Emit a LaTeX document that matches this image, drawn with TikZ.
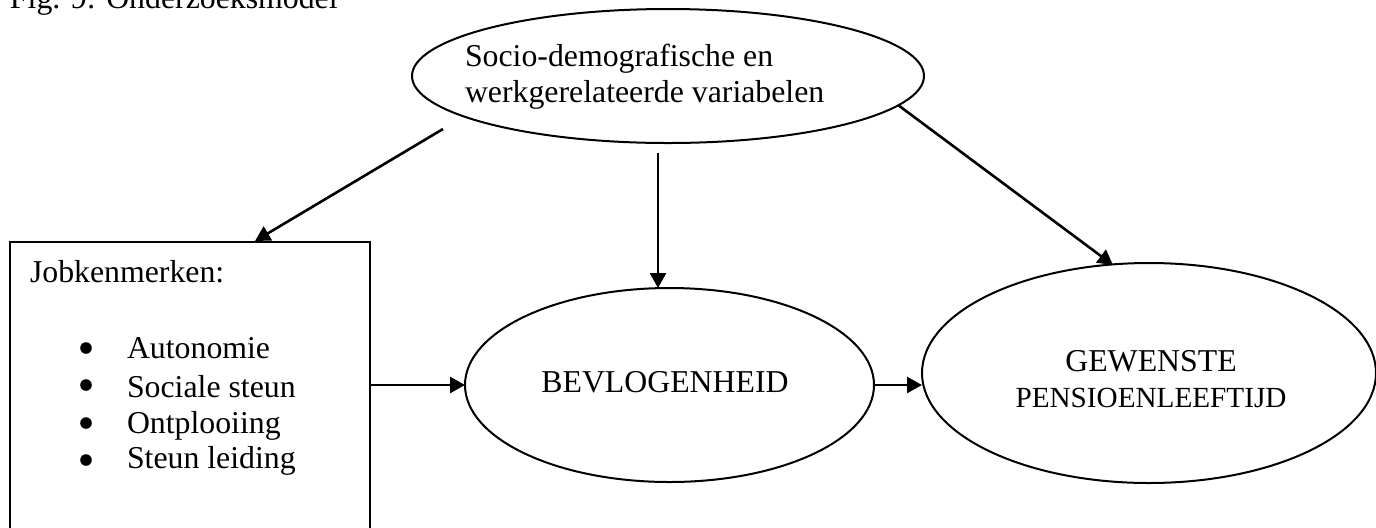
\documentclass[tikz,border=0pt]{standalone}
\usepackage{fontspec}
\setmainfont{Liberation Serif}
\usetikzlibrary{arrows.meta,shapes.geometric}
\begin{document}
\begin{tikzpicture}[x=0.5pt,y=-0.5pt,
  every node/.style={inner sep=0pt,outer sep=0pt},
  txt/.style={font=\fontsize{15.9}{18}\selectfont, anchor=base west},
  txtc/.style={font=\fontsize{15.9}{18}\selectfont, anchor=base},
  oval/.style={draw, ellipse, line width=1pt},
  dot/.style={circle, fill, minimum size=5.8pt},
  arr/.style={-{Triangle[length=7.5pt,width=8pt]}, line width=1.3pt},
]
\useasboundingbox (0,0) rectangle (1376,527);
\node[txt] (title) at (10,8) {Fig. 9: Onderzoeksmodel};
% top ellipse
\node[oval, minimum width=256pt, minimum height=67pt] (socio) at (668,76) {};
\node[txt] (s1) at (465,66) {Socio-demografische en};
\node[txt] (s2) at (465,102) {werkgerelateerde variabelen};
% job box
\node[draw, line width=1pt, minimum width=180pt, minimum height=160pt, anchor=north west] (job) at (10,242) {};
\node[txt] (jt) at (30,282) {Jobkenmerken:};
\node[dot] (b1) at (86,348) {};
\node[dot] (b2) at (86,385) {};
\node[dot] (b3) at (86,423) {};
\node[dot] (b4) at (86,460) {};
\node[txt] (i1) at (127,358) {Autonomie};
\node[txt] (i2) at (127,397) {Sociale steun};
\node[txt] (i3) at (127,433) {Ontplooiing};
\node[txt] (i4) at (127,468) {Steun leiding};
% BEVLOGENHEID
\node[oval, minimum width=204.5pt, minimum height=97pt] (bev) at (669.5,385) {};
\node[txtc] (bevt) at (665,392) {BEVLOGENHEID};
% GEWENSTE
\node[oval, minimum width=227pt, minimum height=110pt] (gew) at (1149,373) {};
\node[txtc] (g1) at (1151,371) {GEWENSTE};
\node[txtc, font=\fontsize{14.6}{18}\selectfont] (g2) at (1151,407) {PENSIOENLEEFTIJD};
% connectors
\coordinate (a1s) at (443,129);
\coordinate (a1e) at (255,241);
\coordinate (a2s) at (658,153);
\coordinate (a3s) at (898,105);
\coordinate (a3e) at (1113,265);
\draw[arr] (a1s) -- (a1e);
\draw[arr] (a2s) -- (a2s |- bev.north);
\draw[arr] (a3s) -- (a3e);
\draw[arr] (bev.west -| job.east) -- (bev.west);
\draw[arr] (bev.east) -- (bev.east -| gew.west);
\end{tikzpicture}
\end{document}
